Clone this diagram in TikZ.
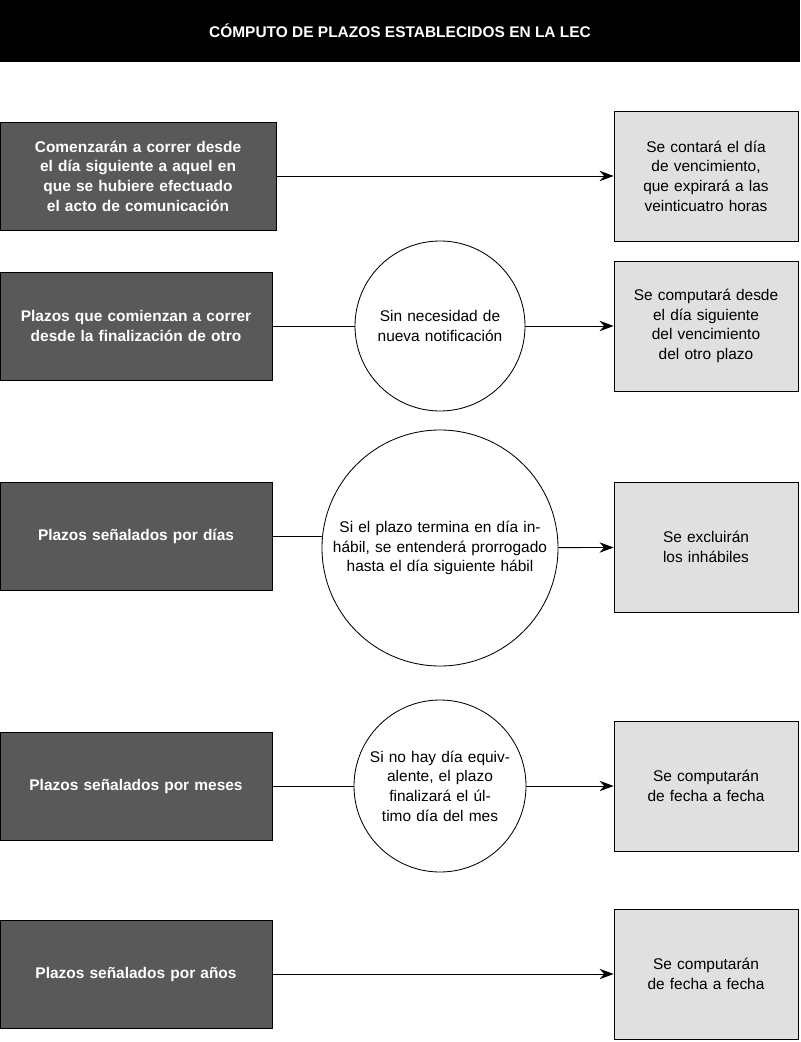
\documentclass[tikz,border=0pt]{standalone}
\usepackage{fontspec}
\setmainfont{Liberation Sans}
\usetikzlibrary{arrows.meta,positioning,calc}
\definecolor{lecdark}{RGB}{89, 89, 89}
\definecolor{leclight}{RGB}{224, 224, 224}

\begin{document}
\begin{tikzpicture}[
		% Node styles
		title/.style={fill=black, text=white, font=\fontsize{11}{14}\selectfont\bfseries,
				minimum width=20cm, minimum height=1.55cm, inner sep=0pt},
		rule/.style={draw=black, fill=lecdark, text=white, line width=0.6pt,
				minimum width=6.8cm, minimum height=2.7cm, text width=6.4cm,
				font=\fontsize{11}{14}\selectfont\bfseries, align=center},
		result/.style={draw=black, fill=leclight, line width=0.6pt,
				minimum width=4.6cm, minimum height=3.25cm, text width=4.2cm,
				font=\fontsize{11}{14}\selectfont, align=center},
		note/.style={draw=black, fill=white, circle, line width=0.6pt, inner sep=0pt,
				font=\fontsize{11}{14}\selectfont, align=center},
		connector/.style={draw=black, line width=0.6pt},
		arrow/.style={connector, -{Stealth[length=3.5mm, width=2.6mm]}},
	]

	\useasboundingbox (0,0) rectangle (20,-26.05);

	% Title bar
	\node[title] (title) at (10,-0.78) {CÓMPUTO DE PLAZOS ESTABLECIDOS EN LA LEC};

	% Left column
	\node[rule, minimum width=6.9cm] (dia) at (3.45,-4.4) {Comenzarán a correr desde el día siguiente a aquel en que se hubiere efectuado el acto de comunicación};
	\node[rule] (otro) at (3.4,-8.15) {Plazos que comienzan a correr desde la finalización de otro};
	\node[rule] (dias) at (3.4,-13.4) {Plazos señalados por días};
	\node[rule] (meses) at (3.4,-19.65) {Plazos señalados por meses};
	\node[rule] (anios) at (3.4,-24.35) {Plazos señalados por años};

	% Middle circles
	\node[note, minimum size=4.25cm, text width=4.1cm] (notif) at (11,-8.15) {Sin necesidad de\\nueva notificación};
	\node[note, minimum size=5.9cm, text width=5.4cm] (inhabil) at (11,-13.7) {Si el plazo termina en día inhábil, se entenderá prorrogado hasta el día siguiente hábil};
	\node[note, minimum size=4.3cm, text width=3.9cm] (equiv) at (11,-19.65) {Si no hay día equivalente, el plazo finalizará el último día del mes};

	% Right column
	\node[result] (venc) at (17.65,-4.4) {Se contará el día de vencimiento, que expirará a las veinticuatro horas};
	\node[result] (sigotro) at (17.65,-8.15) {Se computará desde el día siguiente del vencimiento del otro plazo};
	\node[result] (excl) at (17.65,-13.68) {Se excluirán los inhábiles};
	\node[result] (fecham) at (17.65,-19.65) {Se computarán de fecha a fecha};
	\node[result] (fechaa) at (17.65,-24.35) {Se computarán de fecha a fecha};

	% Connections
	\draw[arrow] (dia) -- (venc);
	\draw[connector] (otro) -- (notif);
	\draw[arrow] (notif) -- (sigotro);
	\draw[connector] (dias.east) -- (inhabil.west |- dias.east);
	\draw[arrow] (inhabil) -- (excl);
	\draw[connector] (meses) -- (equiv);
	\draw[arrow] (equiv) -- (fecham);
	\draw[arrow] (anios) -- (fechaa);

\end{tikzpicture}
\end{document}
